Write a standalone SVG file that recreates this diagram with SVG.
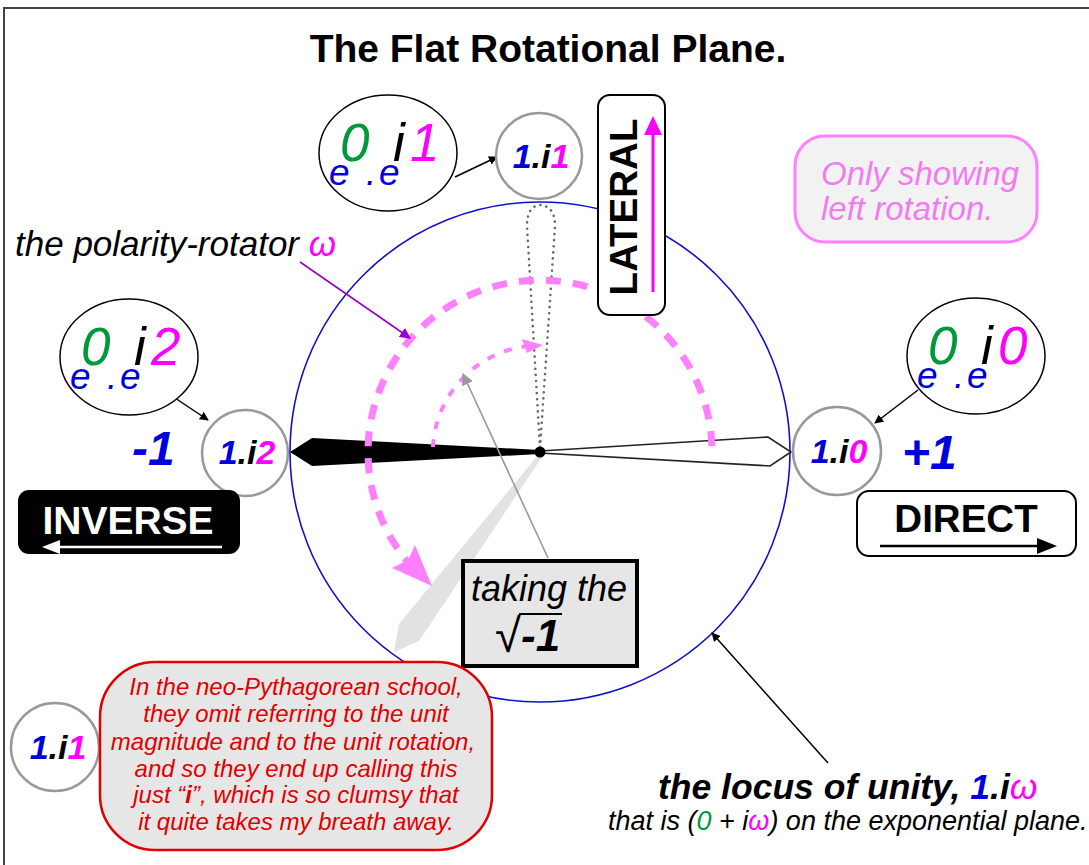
<svg xmlns="http://www.w3.org/2000/svg" width="1089" height="865" viewBox="0 0 1089 865">
<style>
text{font-family:"Liberation Sans",Arial,Helvetica,sans-serif}
.b{font-weight:bold}
.it{font-style:italic}
.blue{fill:#0000dd}
.green{fill:#00993a}
.mag{fill:#ff00ff}
.blk{fill:#000}
.lbl{fill:#fff;stroke:#000;stroke-width:1.5}
.val{fill:#fff;stroke:#999;stroke-width:2.5}
.con{stroke:#000;stroke-width:1.5;fill:none}
</style>
<defs>
<marker id="ah" viewBox="0 0 10 10" refX="9" refY="5" markerWidth="9" markerHeight="9" markerUnits="userSpaceOnUse" orient="auto"><path d="M0,0 L10,5 L0,10 z" fill="#000"/></marker>
<marker id="ahp" viewBox="0 0 10 10" refX="9" refY="5" markerWidth="11" markerHeight="11" markerUnits="userSpaceOnUse" orient="auto"><path d="M0,0 L10,5 L0,10 z" fill="#9900cc"/></marker>
<marker id="ahg" viewBox="0 0 10 10" refX="9" refY="5" markerWidth="12" markerHeight="12" markerUnits="userSpaceOnUse" orient="auto"><path d="M0,0 L10,5 L0,10 z" fill="#999"/></marker>
<g id="expo">
<ellipse cx="0" cy="0" rx="69" ry="58" class="lbl"/>
<text x="-59" y="32" font-size="37" class="it blue">e</text>
<text x="-48" y="8" font-size="53" class="it green">0</text>
<text x="-22" y="32" font-size="37" class="it blue">.</text>
<text x="-9" y="32" font-size="37" class="it blue">e</text>
<text x="5" y="8" font-size="53" class="it blk">i</text>
</g>
</defs>
<rect x="0" y="0" width="1089" height="865" fill="#fff"/>
<rect x="4" y="8" width="1110" height="900" fill="none" stroke="#444" stroke-width="2"/>

<text x="548" y="62" font-size="39" text-anchor="middle" class="b">The Flat Rotational Plane.</text>

<!-- locus circle -->
<g id="locus">
<circle cx="540" cy="452" r="250" fill="none" stroke="#1010cc" stroke-width="1.6"/>
</g>

<!-- needles -->
<g id="needles">
<polygon points="538,455 399,624 394,652 419,641 542,457" fill="#e2e2e2"/>
<path d="M540,448 L527,226 Q527,206 540,205 Q555,206 555,226 Z" fill="none" stroke="#666" stroke-width="2.5" stroke-dasharray="0.1,6" stroke-linecap="round"/>
<polygon points="290,452 312,438 540,450 540,454 312,466" fill="#000"/>
<polygon points="540,451 768,437 791,452 770,466 540,453" fill="#fff" stroke="#222" stroke-width="1.6" stroke-linejoin="miter"/>
<circle cx="540" cy="452" r="5.5" fill="#000"/>
</g>

<!-- rotation arcs -->
<g id="arcs">
<path d="M711.9,446 A172,172 0 1 0 412,567" fill="none" stroke="#ff80ff" stroke-width="7" stroke-dasharray="15,12"/>
<polygon points="392,568 432,586 415,545 408,560" fill="#ff80ff"/>
<path d="M433,447 A107,107 0 0 1 528,346" fill="none" stroke="#ff80ff" stroke-width="4" stroke-dasharray="8,10"/>
<polygon points="522,339 543,345 527,353" fill="#ff80ff"/>
</g>

<!-- connectors -->
<g id="connectors">
<line x1="455" y1="177" x2="497" y2="157" class="con" marker-end="url(#ah)"/>
<line x1="175" y1="398" x2="208" y2="420" class="con" marker-end="url(#ah)"/>
<line x1="918" y1="390" x2="875" y2="423" class="con" marker-end="url(#ah)"/>
<line x1="300" y1="262" x2="410" y2="338" stroke="#9900cc" stroke-width="1.6" marker-end="url(#ahp)"/>
<line x1="548" y1="558" x2="463" y2="374" stroke="#999" stroke-width="1.6" marker-end="url(#ahg)"/>
<line x1="828" y1="763" x2="712" y2="633" class="con" marker-end="url(#ah)"/>
</g>

<!-- exponential labels -->
<g id="expo-top" transform="translate(388,153)">
<use href="#expo"/>
<text x="22" y="8" font-size="53" class="it mag">1</text>
</g>
<g id="expo-left" transform="translate(129,357)">
<use href="#expo"/>
<text x="22" y="8" font-size="53" class="it mag">2</text>
</g>
<g id="expo-right" transform="translate(976,356)">
<use href="#expo"/>
<text x="22" y="8" font-size="53" class="it mag">0</text>
</g>

<!-- value circles -->
<g id="val-top">
<circle cx="539" cy="156" r="43" class="val"/>
<text x="541" y="168" font-size="34" text-anchor="middle" class="b it"><tspan class="blue">1</tspan>.i<tspan class="mag">1</tspan></text>
</g>
<g id="val-left">
<circle cx="245" cy="453" r="43" class="val"/>
<text x="247" y="464" font-size="34" text-anchor="middle" class="b it"><tspan class="blue">1</tspan>.i<tspan class="mag">2</tspan></text>
</g>
<g id="val-right">
<circle cx="837" cy="451" r="44" class="val"/>
<text x="839" y="463" font-size="34" text-anchor="middle" class="b it"><tspan class="blue">1</tspan>.i<tspan class="mag">0</tspan></text>
</g>
<g id="val-bottom">
<circle cx="55" cy="747" r="44" class="val"/>
<text x="58" y="759" font-size="34" text-anchor="middle" class="b it"><tspan class="blue">1</tspan>.i<tspan class="mag">1</tspan></text>
</g>

<text x="132" y="465" font-size="48" class="b it blue">-1</text>
<text x="902" y="469" font-size="48" class="b it blue">+1</text>

<!-- INVERSE -->
<g id="inverse">
<rect x="18" y="490" width="222" height="64" rx="11" fill="#000"/>
<text x="128" y="534" font-size="39" text-anchor="middle" class="b" fill="#fff">INVERSE</text>
<line x1="222" y1="547" x2="50" y2="547" stroke="#fff" stroke-width="2.5"/>
<polygon points="42,547 60,540 60,554" fill="#fff"/>
</g>

<!-- DIRECT -->
<g id="direct">
<rect x="857" y="491" width="219" height="65" rx="12" fill="#fff" stroke="#000" stroke-width="2"/>
<text x="966" y="532" font-size="38.5" text-anchor="middle" class="b">DIRECT</text>
<line x1="880" y1="546" x2="1045" y2="546" stroke="#000" stroke-width="2.5"/>
<polygon points="1057,546 1037,538 1037,554" fill="#000"/>
</g>

<!-- LATERAL -->
<g id="lateral">
<rect x="598" y="95" width="67" height="220" rx="12" fill="#fff" stroke="#000" stroke-width="2"/>
<text transform="translate(637,207) rotate(-90)" font-size="38.5" text-anchor="middle" class="b">LATERAL</text>
<line x1="653" y1="292" x2="653" y2="130" stroke="#ff00ff" stroke-width="3"/>
<polygon points="653,116 644,135 662,135" fill="#ff00ff"/>
</g>

<!-- Only showing -->
<g id="only">
<rect x="795" y="136" width="242" height="106" rx="30" fill="#f2f2f2" stroke="#ff80ff" stroke-width="3"/>
<text x="821" y="185" font-size="33" class="it" fill="#f07cf0">Only showing</text>
<text x="821" y="220" font-size="33" class="it" fill="#f07cf0">left rotation.</text>
</g>

<!-- polarity rotator label -->
<text x="15" y="256" font-size="35" class="it">the polarity-rotator <tspan class="mag">ω</tspan></text>

<!-- taking the sqrt -->
<g id="sqrt">
<rect x="463" y="561" width="174" height="105" fill="#e6e6e6" stroke="#000" stroke-width="4"/>
<text x="549" y="601" font-size="36" text-anchor="middle" class="it">taking the</text>
<text x="495" y="652" font-size="47">√</text>
<line x1="519" y1="614" x2="562" y2="614" stroke="#000" stroke-width="2"/>
<text x="521" y="651" font-size="44" class="b it">-1</text>
</g>

<!-- red note -->
<g id="note">
<rect x="100" y="662" width="392" height="188" rx="55" fill="#e6e6e6" stroke="#e00000" stroke-width="2.5"/>
<g font-size="24" class="it" fill="#e00000" text-anchor="middle">
<text x="296" y="695">In the neo-Pythagorean school,</text>
<text x="296" y="722">they omit referring to the unit</text>
<text x="293" y="750">magnitude and to the unit rotation,</text>
<text x="296" y="777">and so they end up calling this</text>
<text x="296" y="803">just “<tspan class="b">i</tspan>”, which is so clumsy that</text>
<text x="296" y="830">it quite takes my breath away.</text>
</g>
</g>

<!-- locus label -->
<g id="locus-label">
<text x="658" y="799" font-size="35.5" class="b it">the locus of unity, <tspan class="blue">1</tspan>.i<tspan class="mag" font-weight="normal">ω</tspan></text>
<text x="608" y="830" font-size="27" class="it">that is (<tspan class="green">0</tspan> + i<tspan class="mag">ω</tspan>) on the exponential plane.</text>
</g>
</svg>
